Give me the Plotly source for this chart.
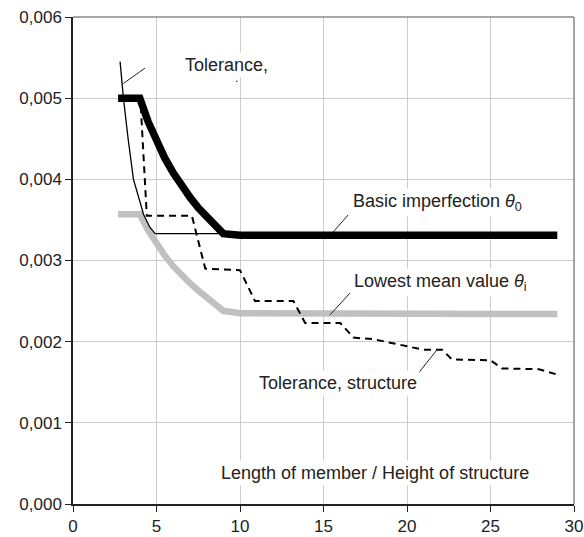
import plotly.graph_objects as go

# ---- data ----
basic_x = [2.7, 4.0, 4.5, 5.0, 5.5, 6.0, 6.5, 7.0, 7.5, 8.0, 8.5, 9.0, 10.0, 29.0]
basic_y = [0.00500, 0.00500, 0.00471, 0.00447, 0.00426, 0.00408, 0.00392, 0.00378,
           0.00365, 0.00354, 0.00343, 0.00333, 0.00331, 0.00331]

lowest_x = [2.7, 4.0, 4.5, 5.0, 5.5, 6.0, 6.5, 7.0, 7.5, 8.0, 8.5, 9.0, 10.0, 29.0]
lowest_y = [0.00357, 0.00357, 0.00337, 0.00320, 0.00306, 0.00293, 0.00282, 0.00272,
            0.00263, 0.00254, 0.00246, 0.00238, 0.00235, 0.00234]

member_x = [2.82, 3.02, 3.3, 3.62, 4.0, 4.22, 4.6, 4.92, 9.0]
member_y = [0.00545, 0.00500, 0.00450, 0.00400, 0.00373, 0.00357, 0.00341, 0.00333, 0.00333]

struct_x = [4.06, 4.42, 7.12, 7.92, 10.0, 10.9, 13.2, 13.9, 16.0, 16.8, 18.0, 19.6,
            21.0, 21.8, 22.1, 22.7, 25.0, 25.7, 27.9, 28.9]
struct_y = [0.00490, 0.00355, 0.00355, 0.00290, 0.00288, 0.00250, 0.00250, 0.00223,
            0.00223, 0.00205, 0.00203, 0.00196, 0.00190, 0.00190, 0.00190, 0.00178,
            0.00177, 0.00167, 0.00166, 0.00160]

x_ticks = [0, 5, 10, 15, 20, 25, 30]
y_ticks = [0.000, 0.001, 0.002, 0.003, 0.004, 0.005, 0.006]
y_tick_text = ["0,000", "0,001", "0,002", "0,003", "0,004", "0,005", "0,006"]

FONT = "Liberation Sans, Arial, sans-serif"
TXT = "#222222"

fig = go.Figure()
fig.add_trace(go.Scatter(x=lowest_x, y=lowest_y, mode="lines",
                         line=dict(color="#c0c0c0", width=6.5), hoverinfo="skip"))
fig.add_trace(go.Scatter(x=member_x, y=member_y, mode="lines",
                         line=dict(color="#000000", width=1.3), hoverinfo="skip"))
fig.add_trace(go.Scatter(x=struct_x, y=struct_y, mode="lines",
                         line=dict(color="#000000", width=2, dash="7px,5px"), hoverinfo="skip"))
fig.add_trace(go.Scatter(x=basic_x, y=basic_y, mode="lines",
                         line=dict(color="#000000", width=7.5), hoverinfo="skip"))

labels = [
    dict(text="Tolerance,", x=9.2, y=0.00541),
    dict(text="Basic imperfection <i>θ</i><sub>0</sub>", x=21.8, y=0.00371),
    dict(text="Lowest mean value <i>θ</i><sub>i</sub>", x=22.0, y=0.00273),
    dict(text="Tolerance, structure", x=15.85, y=0.00149),
    dict(text="Length of member / Height of structure", x=18.1, y=0.00038),
]
for lb in labels:
    fig.add_annotation(x=lb["x"], y=lb["y"], text=lb["text"], showarrow=False,
                       xanchor="center", yanchor="middle", bgcolor="white",
                       borderpad=2, font=dict(family=FONT, size=18, color=TXT))

fig.add_annotation(x=9.8, y=0.00525, text=".", showarrow=False,
                   font=dict(family=FONT, size=12, color=TXT))

leaders = [
    ((3.01, 0.00518), (4.31, 0.00537)),
    ((15.57, 0.00335), (16.47, 0.00356)),
    ((15.39, 0.00233), (16.59, 0.00260)),
    ((20.6, 0.00159), (21.8, 0.00190)),
]
for (x0, y0), (x1, y1) in leaders:
    fig.add_shape(type="line", x0=x0, y0=y0, x1=x1, y1=y1, layer="above",
                  line=dict(color="#222222", width=1))

# grey top/right border of the plot area
fig.add_shape(type="line", xref="paper", yref="paper", x0=0, y0=1, x1=1, y1=1,
              line=dict(color="#8a8a8a", width=1.5))
fig.add_shape(type="line", xref="paper", yref="paper", x0=1, y0=0, x1=1, y1=1,
              line=dict(color="#8a8a8a", width=1.5))

fig.update_layout(
    width=584, height=537,
    margin=dict(l=73, r=10, t=17, b=33, autoexpand=False),
    paper_bgcolor="white", plot_bgcolor="white",
    showlegend=False,
    font=dict(family=FONT, size=17, color=TXT),
    xaxis=dict(range=[0, 30], tickvals=x_ticks, showgrid=True, gridcolor="#cccccc",
               gridwidth=1, zeroline=False, showline=True, linecolor="#222222",
               linewidth=1.5, ticks="outside", ticklen=6, tickcolor="#222222",
               automargin=False, ticklabeloverflow="allow",
               tickfont=dict(family=FONT, size=17, color=TXT)),
    yaxis=dict(range=[0, 0.006], tickvals=y_ticks, ticktext=y_tick_text, showgrid=True,
               gridcolor="#cccccc", gridwidth=1, zeroline=False, showline=True,
               linecolor="#222222", linewidth=1.5, ticks="outside", ticklen=6,
               tickcolor="#222222", automargin=False, ticklabeloverflow="allow",
               tickfont=dict(family=FONT, size=17, color=TXT)),
)

# remove the default page margin so the figure sits at the window's top-left corner
fig.write_html("out.html", config={"displayModeBar": False},
               post_script="document.body.style.margin='0';document.body.style.overflow='hidden';")
